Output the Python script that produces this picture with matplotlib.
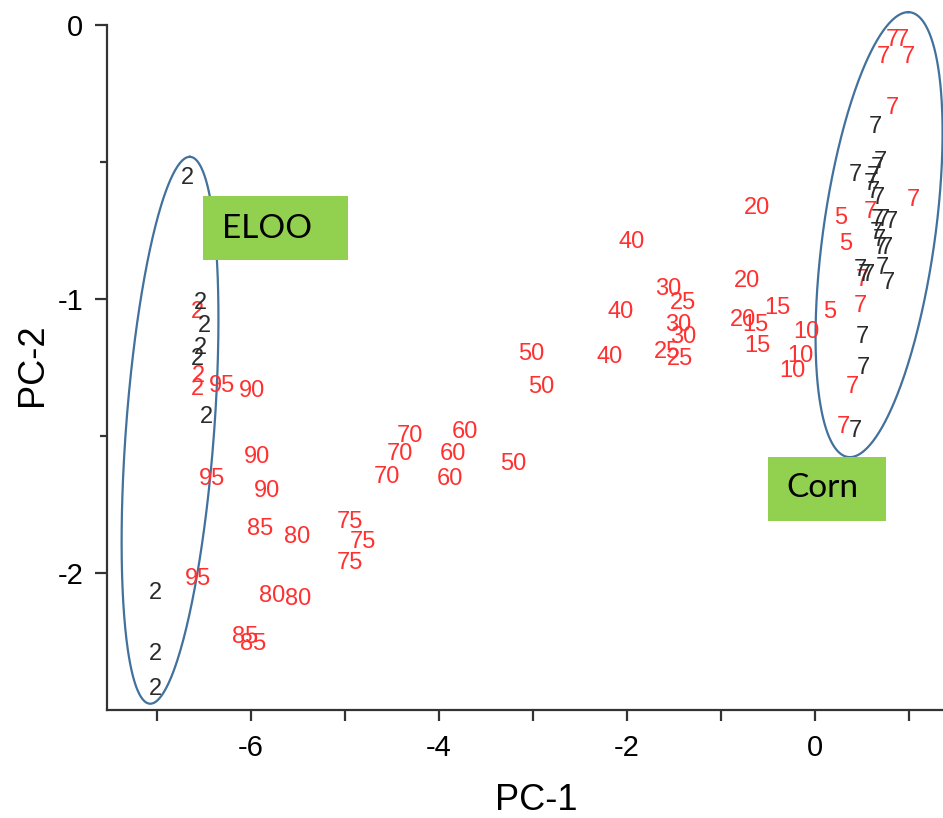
import numpy as np
import matplotlib
matplotlib.use("Agg")
import matplotlib.pyplot as plt
from matplotlib.patches import Rectangle

plt.rcParams['font.family'] = ['Liberation Sans', 'DejaVu Sans']
plt.rcParams['axes.unicode_minus'] = False

# blends (red labels): ELOO content in %
blend_labels = ["20", "20", "20", "15", "15", "15", "10", "10", "10",
                "25", "25", "25", "30", "30", "30", "40", "40", "40",
                "50", "50", "50", "60", "60", "60", "70", "70", "70",
                "75", "75", "75", "80", "80", "80", "85", "85", "85",
                "90", "90", "90", "95", "95", "95", "5", "5", "5",
                "2", "2", "2",
                "7", "7", "7", "7", "7", "7", "7", "7", "7", "7", "7"]
blend_pc1 = [-0.62, -0.72, -0.77, -0.64, -0.40, -0.61, -0.09, -0.16, -0.24,
             -1.41, -1.57, -1.44, -1.56, -1.46, -1.40, -1.95, -2.07, -2.18,
             -3.02, -2.91, -3.21, -3.72, -3.85, -3.88, -4.31, -4.41, -4.55,
             -4.95, -4.81, -4.95, -5.51, -5.77, -5.50, -5.90, -6.06, -5.98,
             -5.99, -5.94, -5.83, -6.31, -6.41, -6.56, 0.27, 0.32, 0.16,
             -6.57, -6.56, -6.57,
             0.82, 0.93, 0.73, 0.99, 0.82, 1.04, 0.59, 0.50, 0.48, 0.40, 0.30]
blend_pc2 = [-0.667, -0.936, -1.075, -1.093, -1.031, -1.173, -1.122, -1.209, -1.264,
             -1.013, -1.195, -1.220, -0.965, -1.093, -1.137, -0.791, -1.049, -1.213,
             -1.199, -1.322, -1.603, -1.486, -1.566, -1.658, -1.501, -1.566, -1.650,
             -1.814, -1.887, -1.964, -1.869, -2.084, -2.095, -1.840, -2.233, -2.259,
             -1.337, -1.577, -1.701, -1.319, -1.658, -2.022, -0.703, -0.798, -1.049,
             -1.049, -1.282, -1.330,
             -0.055, -0.055, -0.117, -0.117, -0.302, -0.638, -0.681, -0.929, -1.027,
             -1.322, -1.468]

# pure oils (black labels)
eloo_pc1 = [-6.67, -6.54, -6.49, -6.54, -6.57, -6.47, -7.02, -7.02, -7.02]
eloo_pc2 = [-0.557, -1.013, -1.100, -1.180, -1.220, -1.432, -2.073, -2.295, -2.423]

corn_pc1 = [0.64, 0.43, 0.69, 0.66, 0.62, 0.59, 0.62, 0.67, 0.66, 0.73, 0.81, 0.65,
            0.68, 0.69, 0.76, 0.48, 0.52, 0.57, 0.71, 0.78, 0.50, 0.51, 0.43]
corn_pc2 = [-0.372, -0.546, -0.499, -0.521, -0.554, -0.579, -0.608, -0.630, -0.710,
            -0.710, -0.718, -0.758, -0.783, -0.812, -0.812, -0.893, -0.911, -0.911,
            -0.885, -0.940, -1.140, -1.250, -1.483]

red = '#ff3030'
dark = '#2a2a2a'
edge = '#41719c'
green = '#92d050'

fig = plt.figure(figsize=(9.43, 8.18), dpi=100)
ax = fig.add_axes([0.1135, 0.132, 0.8865, 0.8374])

for lab, x, y in zip(blend_labels, blend_pc1, blend_pc2):
    ax.text(x, y, lab, color=red, fontsize=17, ha='center', va='center', zorder=3)
for x, y in zip(eloo_pc1, eloo_pc2):
    ax.text(x, y, "2", color=dark, fontsize=17, ha='center', va='center', zorder=3)
for x, y in zip(corn_pc1, corn_pc2):
    ax.text(x, y, "7", color=dark, fontsize=17, ha='center', va='center', zorder=3)


def draw_ellipse(center, top, half_w):
    # ellipse from two conjugate half-axes given in data units
    t = np.linspace(0, 2 * np.pi, 400)
    cx, cy = center
    ux, uy = top[0] - cx, top[1] - cy
    xs = cx + np.cos(t) * ux + np.sin(t) * half_w
    ys = cy + np.cos(t) * uy
    ax.plot(xs, ys, color=edge, lw=1.6, clip_on=False, zorder=2)


draw_ellipse((-6.86, -1.479), (-6.65, -0.481), 0.47)
draw_ellipse((0.68, -0.765), (0.99, 0.047), 0.60)

# group tags
ax.add_patch(Rectangle((-6.51, -0.856), 1.54, 0.233, facecolor=green,
                       edgecolor='none', zorder=4, clip_on=False))
ax.text(-6.31, -0.743, "ELOO", fontsize=24, family=['Lato', 'DejaVu Sans'],
        ha='left', va='center', color='black', zorder=5)
ax.add_patch(Rectangle((-0.50, -1.811), 1.255, 0.234, facecolor=green,
                       edgecolor='none', zorder=4, clip_on=False))
ax.text(-0.31, -1.690, "Corn", fontsize=24, family=['Lato', 'DejaVu Sans'],
        ha='left', va='center', color='black', zorder=5)

ax.set_xlim(-7.53, 1.36)
ax.set_ylim(-2.5, 0)

ax.spines['top'].set_visible(False)
ax.spines['right'].set_visible(False)
for s in ('left', 'bottom'):
    ax.spines[s].set_linewidth(1.6)
    ax.spines[s].set_color('#333333')

xt = np.arange(-7, 2)
ax.set_xticks(xt)
ax.set_xticklabels([str(v) if v % 2 == 0 else '' for v in xt])
ax.set_yticks([0, -1, -2])
ax.set_yticks([-0.5, -1.5], minor=True)
ax.tick_params(axis='x', length=8, width=1.6, color='#333333', labelsize=21, pad=9)
ax.tick_params(axis='y', which='major', length=9, width=1.6, color='#333333',
               labelsize=21, pad=8)
ax.tick_params(axis='y', which='minor', length=5, width=1.6, color='#333333')

ax.set_xlabel("PC-1", fontsize=26)
ax.set_ylabel("PC-2", fontsize=26)
ax.xaxis.set_label_coords(0.514, -0.106)
ax.yaxis.set_label_coords(-0.068, 0.504)

fig.savefig("out.png", dpi=100)
